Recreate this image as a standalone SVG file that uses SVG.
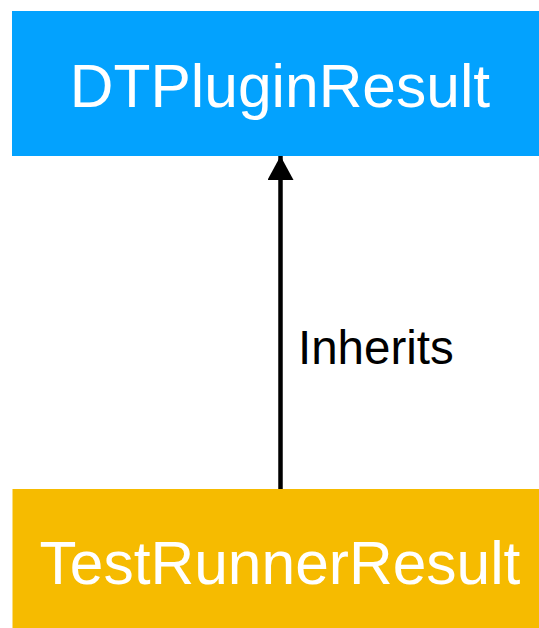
<svg xmlns="http://www.w3.org/2000/svg" width="539" height="628" viewBox="0 0 539 628">
  <style>
    .label { font-family: "Liberation Sans", Arial, sans-serif; fill: #ffffff; font-size: 60.5px; text-anchor: middle; }
    .edge-label { font-family: "Liberation Sans", Arial, sans-serif; fill: #000000; font-size: 47.5px; }
    .edge { stroke: #000000; stroke-width: 4.5; fill: none; }
  </style>
  <defs>
    <marker id="arrow" markerUnits="userSpaceOnUse" markerWidth="26" markerHeight="26" refX="24" refY="13" orient="auto">
      <path d="M0,0 L24,13 L0,26 Z" fill="#000000"/>
    </marker>
  </defs>
  <rect width="539" height="628" fill="#ffffff"/>
  <g id="connectors">
    <line class="edge" x1="280.5" y1="495" x2="280.5" y2="156" marker-end="url(#arrow)"/>
    <text class="edge-label" x="298" y="364">Inherits</text>
  </g>
  <g id="node-dtpluginresult">
    <rect x="12" y="11" width="527" height="145" fill="#03A2FE"/>
    <text class="label" x="280" y="107">DTPluginResult</text>
  </g>
  <g id="node-testrunnerresult">
    <rect x="12.5" y="489" width="526.5" height="139" fill="#F6BB00"/>
    <text class="label" x="280" y="584">TestRunnerResult</text>
  </g>
</svg>
